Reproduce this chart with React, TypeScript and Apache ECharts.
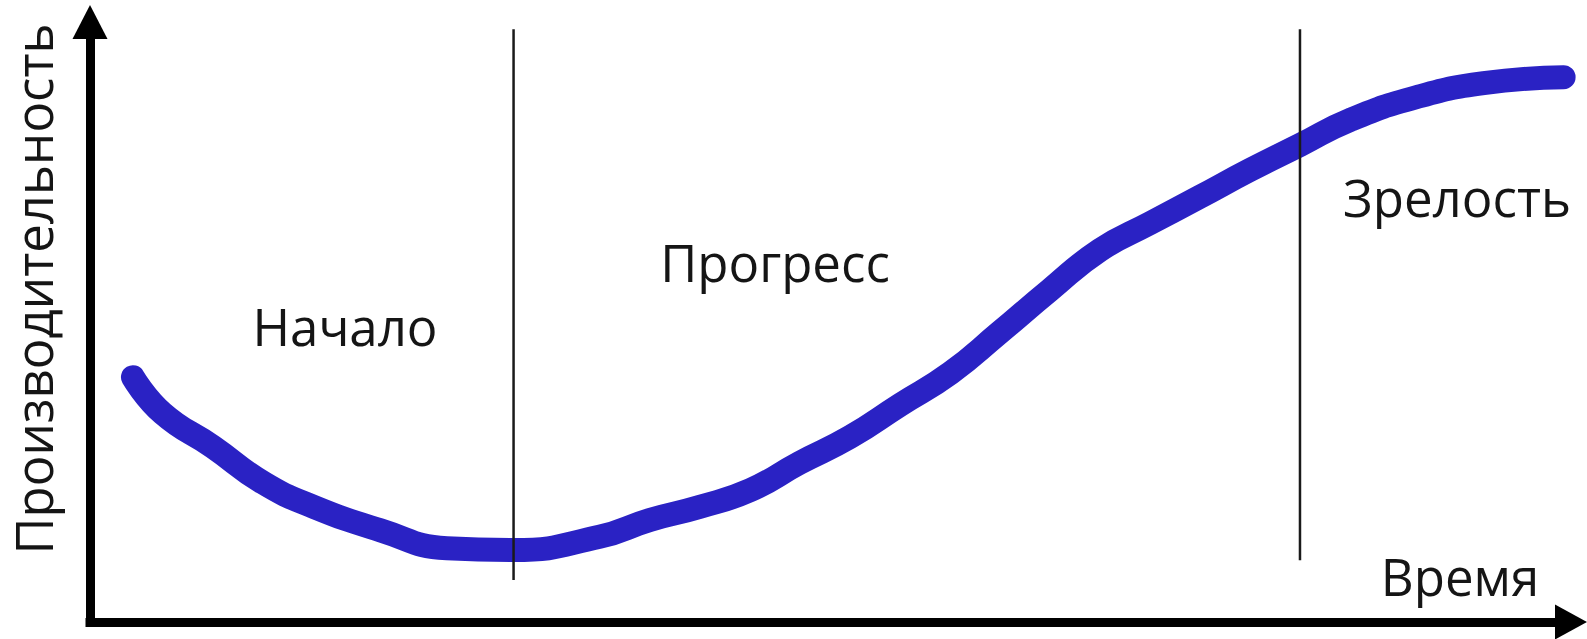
import React, { useEffect, useRef } from "react";
import * as echarts from "echarts";

// Curve: time (x) vs performance (y), both in 0..100 units
const timeValues = [2.9, 4.9, 8.3, 11.7, 15.1, 19.6, 24.1, 28.6, 34.4, 37.8, 41.2, 44.6, 47.9, 51.3, 54.7, 58.1, 61.4, 64.8, 68.2, 71.6, 74.9, 78.3, 81.7, 85.1, 89.6, 94.1, 99.5];
const performanceValues = [40.8, 34.8, 29.2, 23.2, 19.2, 15.3, 12.3, 12.0, 14.2, 17.0, 19.2, 22.0, 26.5, 30.8, 36.2, 41.5, 48.2, 55.3, 62.0, 66.5, 70.8, 75.3, 79.5, 83.7, 87.5, 89.8, 90.8];

// Phase boundaries (vertical lines): x position, bottom, top
const boundaryX = [28.6, 81.7];
const boundaryBottom = [7.0, 10.3];
const boundaryTop = [98.8, 98.8];

const phaseLabels = ["Начало", "Прогресс", "Зрелость"];
const xAxisTitle = "Время";
const yAxisTitle = "Производительность";

const FONT = "'Open Sans', 'Noto Sans', sans-serif";

export default function App() {
  const ref = useRef<HTMLDivElement>(null);
  useEffect(() => {
    if (!ref.current) return;
    const chart = echarts.init(ref.current, undefined, { renderer: "svg" });
    const curve = timeValues.map((t, i) => [t, performanceValues[i]]);
    const boundarySeries = boundaryX.map((x, i) => ({
      type: "line",
      data: [
        [x, boundaryBottom[i]],
        [x, boundaryTop[i]],
      ],
      showSymbol: false,
      silent: true,
      lineStyle: { color: "#1a1a1a", width: 2.5 },
      z: 3,
    }));
    const labelPos = [
      [345, 326],
      [775, 262],
      [1457, 197],
    ];
    const textStyle = (text: string) => ({
      text,
      font: `51px ${FONT}`,
      lineHeight: 52,
      fill: "#151515",
      textAlign: "center",
      textVerticalAlign: "middle",
    });
    chart.setOption({
      animation: false,
      backgroundColor: "#ffffff",
      grid: { left: 90, right: 16, top: 22, bottom: 17, containLabel: false },
      xAxis: {
        type: "value",
        min: 0,
        max: 100,
        axisLabel: { show: false },
        axisTick: { show: false },
        splitLine: { show: false },
        axisLine: {
          show: true,
          onZero: false,
          symbol: ["none", "triangle"],
          symbolSize: [35, 32],
          lineStyle: { color: "#000", width: 9, cap: "square" },
        },
      },
      yAxis: {
        type: "value",
        min: 0,
        max: 100,
        axisLabel: { show: false },
        axisTick: { show: false },
        splitLine: { show: false },
        axisLine: {
          show: true,
          onZero: false,
          symbol: ["none", "triangle"],
          symbolSize: [35, 34],
          lineStyle: { color: "#000", width: 9, cap: "square" },
        },
      },
      series: [
        {
          type: "line",
          data: curve,
          smooth: 0.5,
          showSymbol: false,
          silent: true,
          lineStyle: { color: "#2a22c4", width: 24, cap: "round", join: "round" },
          z: 2,
        },
        ...boundarySeries,
      ],
      graphic: [
        ...phaseLabels.map((t, i) => ({
          type: "text",
          x: labelPos[i][0],
          y: labelPos[i][1],
          style: textStyle(t),
          z: 10,
        })),
        { type: "text", x: 1460, y: 576, style: textStyle(xAxisTitle), z: 10 },
        {
          type: "text",
          x: 33,
          y: 289,
          rotation: Math.PI / 2,
          style: textStyle(yAxisTitle),
          z: 10,
        },
      ],
    });
    return () => chart.dispose();
  }, []);
  return (
    <div
      ref={ref}
      style={{ position: "fixed", left: 0, top: 0, width: 1587, height: 639 }}
    />
  );
}
